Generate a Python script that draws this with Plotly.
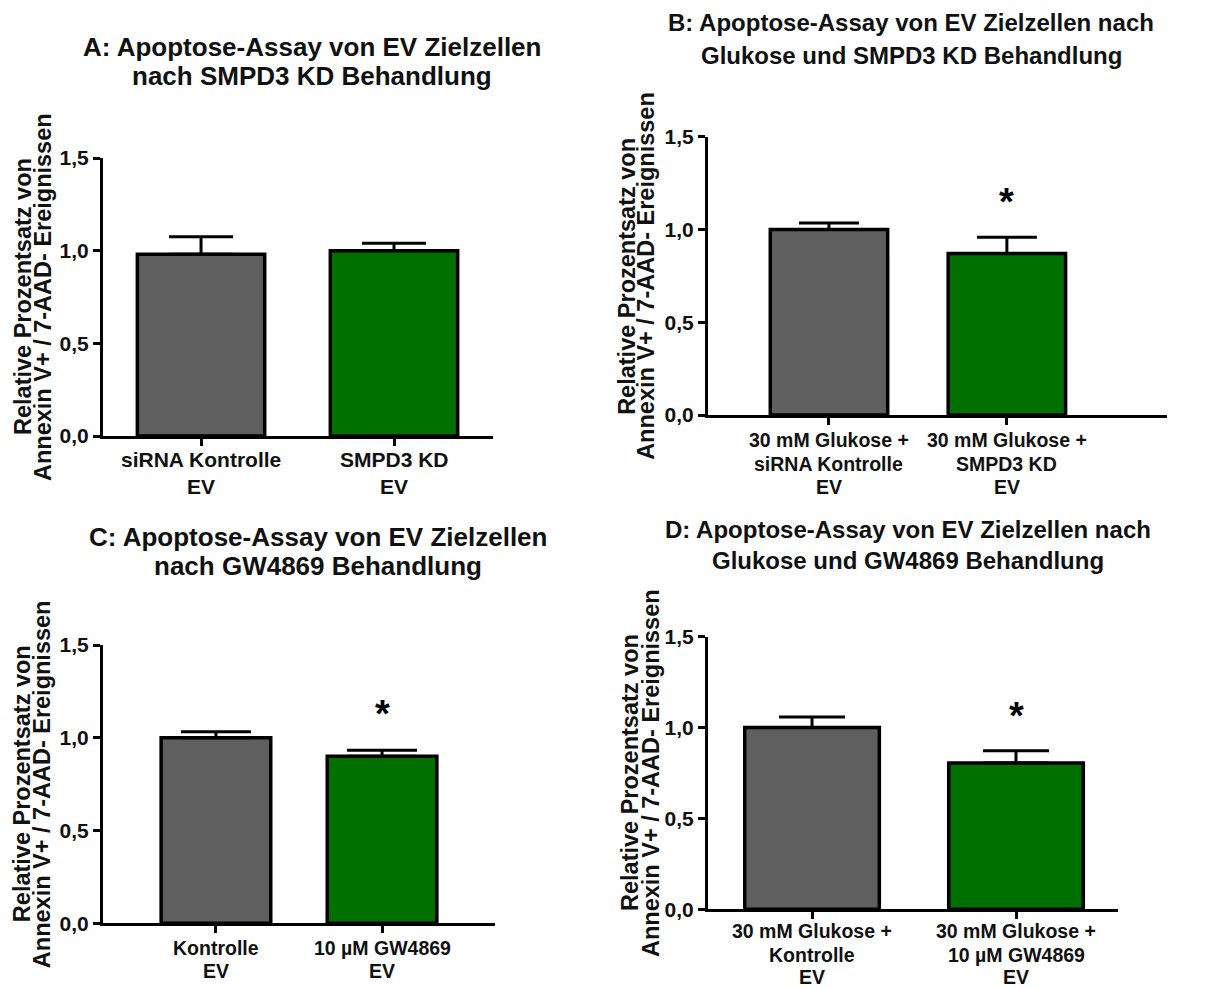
import plotly.graph_objects as go

W, H = 1223, 988
FONT = "Arial, Liberation Sans, sans-serif"

# ---------------- data ----------------
titles_A = ["A: Apoptose-Assay von EV Zielzellen", "nach SMPD3 KD Behandlung"]
titles_B = ["B: Apoptose-Assay von EV Zielzellen nach", "Glukose und SMPD3 KD Behandlung"]
titles_C = ["C: Apoptose-Assay von EV Zielzellen", "nach GW4869 Behandlung"]
titles_D = ["D: Apoptose-Assay von EV Zielzellen nach", "Glukose und GW4869 Behandlung"]

cats_A = [["siRNA Kontrolle", "EV"], ["SMPD3 KD", "EV"]]
cats_B = [["30 mM Glukose +", "siRNA Kontrolle", "EV"], ["30 mM Glukose +", "SMPD3 KD", "EV"]]
cats_C = [["Kontrolle", "EV"], ["10 µM GW4869", "EV"]]
cats_D = [["30 mM Glukose +", "Kontrolle", "EV"], ["30 mM Glukose +", "10 µM GW4869", "EV"]]

vals_A = [0.98, 1.00]
vals_B = [1.00, 0.87]
vals_C = [1.00, 0.90]
vals_D = [1.00, 0.805]

err_A = [0.095, 0.04]
err_B = [0.035, 0.088]
err_C = [0.032, 0.033]
err_D = [0.058, 0.067]

sig_A = ["", ""]
sig_B = ["", "*"]
sig_C = ["", "*"]
sig_D = ["", "*"]

ytitle_lines = ["Relative Prozentsatz von", "Annexin V+ / 7-AAD- Ereignissen"]
ytick_vals = [0, 0.5, 1.0, 1.5]
ytick_text = ["0,0", "0,5", "1,0", "1,5"]

bar_colors = ["#5f5f5f", "#007000"]

# ---------------- layout geometry (pixels) ----------------
panels = [
    dict(cats=cats_A, vals=vals_A, err=err_A, sig=sig_A, title=titles_A,
         px=(103, 493), py=(436, 158), xr=(-0.508, 1.513), cap=32,
         tx=312, ty=(47, 76), tfs=26, cfs=21, cy=(460, 486), yt=(23, 43)),
    dict(cats=cats_B, vals=vals_B, err=err_B, sig=sig_B, title=titles_B,
         px=(708, 1167), py=(415, 136.7), xr=(-0.68, 1.90), cap=30,
         tx=911, ty=(23, 55), tfs=24, cfs=19.5, cy=(440, 463.5, 487), yt=(627, 646)),
    dict(cats=cats_C, vals=vals_C, err=err_C, sig=sig_C, title=titles_C,
         px=(103, 495), py=(923.3, 645), xr=(-0.68, 1.68), cap=35,
         tx=318, ty=(536.5, 566), tfs=26, cfs=19.5, cy=(948, 971), yt=(22, 42)),
    dict(cats=cats_D, vals=vals_D, err=err_D, sig=sig_D, title=titles_D,
         px=(708, 1118), py=(909.3, 636.7), xr=(-0.51, 1.50), cap=33,
         tx=908, ty=(529, 560), tfs=24, cfs=19.5, cy=(931, 954.5, 976.5), yt=(630, 651)),
]

fig = go.Figure()
annotations = []
layout_axes = {}

for i, p in enumerate(panels):
    n = "" if i == 0 else str(i + 1)
    xa, ya = "x" + n, "y" + n
    xs = list(range(len(p["cats"])))
    fig.add_trace(go.Bar(
        x=xs, y=p["vals"], xaxis=xa, yaxis=ya, width=0.66,
        marker=dict(color=bar_colors, line=dict(color="black", width=3.5)),
        error_y=dict(type="data", symmetric=False, array=p["err"],
                     arrayminus=[0] * len(xs), color="black", thickness=3,
                     width=p["cap"]),
        hoverinfo="skip",
    ))
    # significance stars above the error bars
    star_y = [v + e + 0.225 for v, e in zip(p["vals"], p["err"])]
    for xv, yv, s in zip(xs, star_y, p["sig"]):
        if s:
            annotations.append(dict(x=xv, y=yv, xref=xa, yref=ya, text=s,
                                    showarrow=False, yanchor="middle", yshift=-6,
                                    font=dict(family=FONT, size=38, color="black",
                                              weight="bold")))
    # category labels (one annotation per line for tight line spacing)
    for xv, lines in zip(xs, p["cats"]):
        for line, cy in zip(lines, p["cy"]):
            annotations.append(dict(x=xv, y=(H - cy) / H, xref=xa, yref="paper",
                                    text=line, showarrow=False, xanchor="center",
                                    yanchor="middle",
                                    font=dict(family=FONT, size=p["cfs"], color="#111",
                                              weight="bold")))
    x0, x1 = p["px"]
    y0, y1 = p["py"]
    layout_axes["xaxis" + n] = dict(
        domain=[x0 / W, x1 / W], anchor=ya, range=list(p["xr"]),
        tickmode="array", tickvals=xs, showticklabels=False, automargin=False,
        showline=True, linecolor="black", linewidth=3,
        ticks="outside", ticklen=7, tickwidth=3, tickcolor="black",
        showgrid=False, zeroline=False, fixedrange=True,
    )
    layout_axes["yaxis" + n] = dict(
        domain=[(H - y0) / H, (H - y1) / H], anchor=xa, range=[0, 1.5],
        tickmode="array", tickvals=ytick_vals, ticktext=ytick_text, automargin=False,
        showline=True, linecolor="black", linewidth=3,
        ticks="outside", ticklen=7, tickwidth=3, tickcolor="black",
        showgrid=False, zeroline=False, fixedrange=True,
        tickfont=dict(family=FONT, size=21, color="#111", weight="bold"),
    )
    # panel titles
    for line, ty in zip(p["title"], p["ty"]):
        annotations.append(dict(x=p["tx"] / W, y=(H - ty) / H, xref="paper", yref="paper",
                                text=line, showarrow=False, xanchor="center",
                                yanchor="middle",
                                font=dict(family=FONT, size=p["tfs"], color="#111",
                                          weight="bold")))
    # y-axis titles
    ymid = (y0 + y1) / 2
    for line, tx in zip(ytitle_lines, p["yt"]):
        annotations.append(dict(x=tx / W, y=(H - ymid) / H, xref="paper", yref="paper",
                                text=line, showarrow=False, textangle=-90,
                                xanchor="center", yanchor="middle",
                                font=dict(family=FONT, size=23.5, color="#111",
                                          weight="bold")))

fig.update_layout(
    template="none",
    width=W, height=H, margin=dict(l=0, r=0, t=0, b=0, autoexpand=False),
    paper_bgcolor="white", plot_bgcolor="white", showlegend=False,
    annotations=annotations, **layout_axes,
)

fig.write_html("out.html", post_script="document.body.style.margin='0';",
               config={"displayModeBar": False})
